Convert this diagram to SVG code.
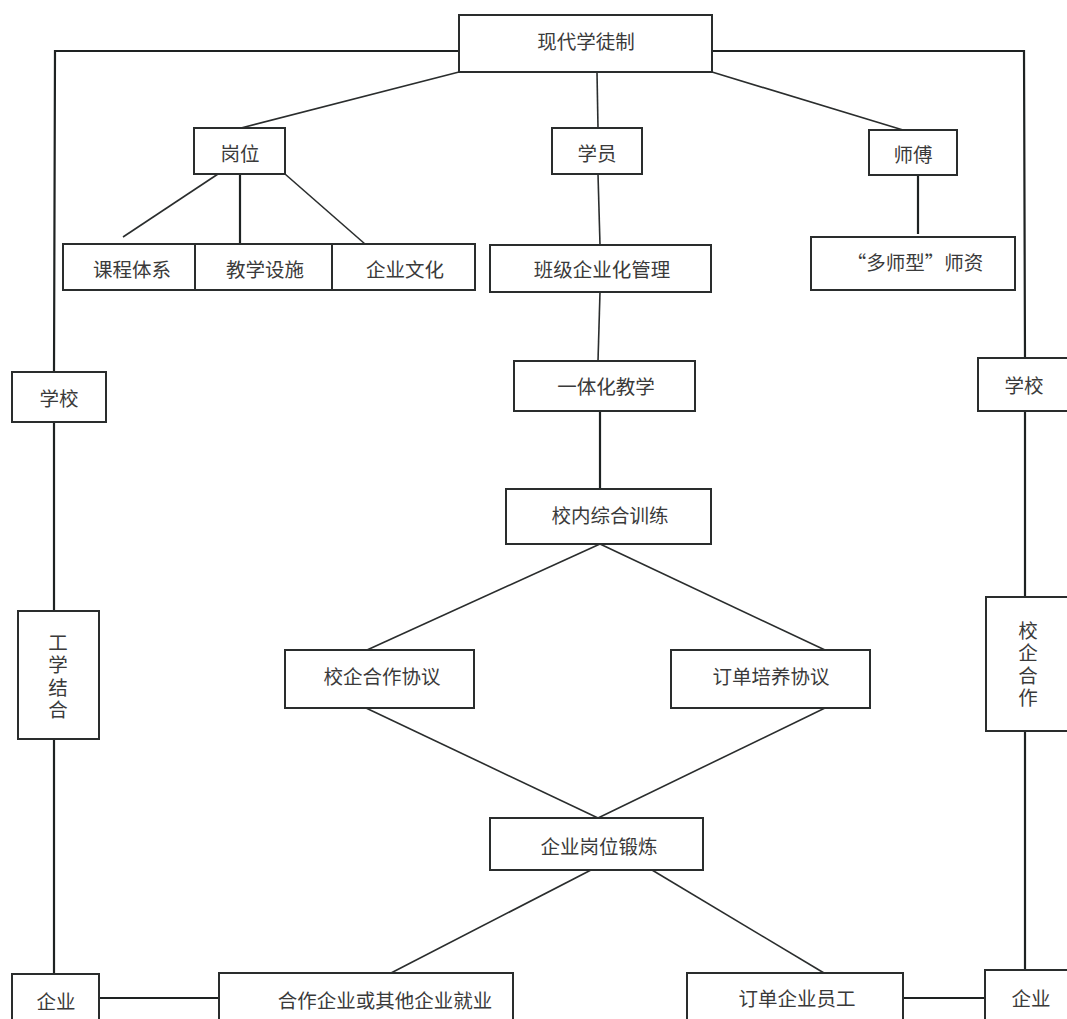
<svg xmlns="http://www.w3.org/2000/svg" width="1067" height="1019" viewBox="0 0 1067 1019">
<style>
.bg{fill:#ffffff}
.box{fill:#ffffff;stroke:#2a2d2d;stroke-width:2}
.ln{fill:none;stroke:#2a2d2d;stroke-width:1.6}
.lk{fill:none;stroke:#1e2222;stroke-width:2.2}
.t{font-family:"Noto Sans CJK SC","Noto Sans",sans-serif;font-size:19.5px;fill:#3a3a3a;text-anchor:middle;dominant-baseline:central}
.v{font-family:"Noto Sans CJK SC","Noto Sans",sans-serif;font-size:19.5px;fill:#3a3a3a;text-anchor:middle;writing-mode:vertical-rl;letter-spacing:3px}
</style>
<rect class="bg" x="0" y="0" width="1067" height="1019"/>
<g id="connectors">
<polyline class="lk" points="459,51 55,51 54,372"/>
<polyline class="lk" points="712,51 1024,51 1025,358"/>
<line class="lk" x1="54" y1="422" x2="54" y2="611"/>
<line class="lk" x1="54" y1="739" x2="54" y2="974"/>
<line class="lk" x1="1025" y1="411" x2="1025" y2="597"/>
<line class="lk" x1="1025" y1="731" x2="1025" y2="970"/>
<line class="lk" x1="99" y1="998" x2="219" y2="998"/>
<line class="lk" x1="903" y1="998" x2="985" y2="998"/>
<line class="ln" x1="459" y1="72" x2="241" y2="128"/>
<line class="ln" x1="597" y1="72" x2="598" y2="128"/>
<line class="ln" x1="712" y1="72" x2="903" y2="130"/>
<line class="ln" x1="218" y1="174" x2="123" y2="237"/>
<line class="lk" x1="240" y1="174" x2="240" y2="244"/>
<line class="ln" x1="285" y1="174" x2="365" y2="244"/>
<line class="ln" x1="598" y1="174" x2="600" y2="245"/>
<line class="lk" x1="918" y1="175" x2="918" y2="234"/>
<line class="ln" x1="600" y1="292" x2="598" y2="361"/>
<line class="lk" x1="600" y1="411" x2="600" y2="489"/>
<line class="ln" x1="600" y1="544" x2="367" y2="650"/>
<line class="ln" x1="600" y1="544" x2="825" y2="650"/>
<line class="ln" x1="366" y1="708" x2="598" y2="818"/>
<line class="ln" x1="825" y1="708" x2="598" y2="818"/>
<line class="ln" x1="591" y1="870" x2="391" y2="973"/>
<line class="ln" x1="652" y1="870" x2="824" y2="973"/>
</g>
<g id="n-top"><rect class="box" x="459" y="15" width="253" height="57"/><text class="t" x="586" y="40">现代学徒制</text></g>
<g id="n-gangwei"><rect class="box" x="194" y="128" width="91" height="46"/><text class="t" x="240" y="152">岗位</text></g>
<g id="n-xueyuan"><rect class="box" x="552" y="128" width="90" height="46"/><text class="t" x="597" y="152">学员</text></g>
<g id="n-shifu"><rect class="box" x="869" y="130" width="88" height="45"/><text class="t" x="913" y="153">师傅</text></g>
<g id="n-kecheng"><rect class="box" x="63" y="244" width="132" height="46"/><text class="t" x="132" y="268">课程体系</text></g>
<g id="n-jiaoxue"><rect class="box" x="195" y="244" width="137" height="46"/><text class="t" x="265" y="268">教学设施</text></g>
<g id="n-wenhua"><rect class="box" x="332" y="244" width="143" height="46"/><text class="t" x="405" y="268">企业文化</text></g>
<g id="n-banji"><rect class="box" x="490" y="245" width="221" height="47"/><text class="t" x="602" y="268">班级企业化管理</text></g>
<g id="n-duoshi"><rect class="box" x="811" y="237" width="204" height="53"/><text class="t" x="915" y="261">“多师型”师资</text></g>
<g id="n-xuexiao-l"><rect class="box" x="12" y="372" width="94" height="50"/><text class="t" x="59" y="397">学校</text></g>
<g id="n-xuexiao-r"><rect class="box" x="978" y="358" width="93" height="53"/><text class="t" x="1024" y="384">学校</text></g>
<g id="n-yitihua"><rect class="box" x="514" y="361" width="181" height="50"/><text class="t" x="606" y="385">一体化教学</text></g>
<g id="n-xiaonei"><rect class="box" x="506" y="489" width="205" height="55"/><text class="t" x="610" y="514">校内综合训练</text></g>
<g id="n-gongxue"><rect class="box" x="18" y="611" width="81" height="128"/>
<text class="v" x="58" y="677.5">工学结合</text></g>
<g id="n-xiaoqi"><rect class="box" x="986" y="597" width="86" height="134"/>
<text class="v" x="1028" y="665.5">校企合作</text></g>
<g id="n-xiaoqixieyi"><rect class="box" x="285" y="650" width="189" height="58"/><text class="t" x="382" y="675">校企合作协议</text></g>
<g id="n-dingdanxieyi"><rect class="box" x="671" y="650" width="199" height="58"/><text class="t" x="771" y="675">订单培养协议</text></g>
<g id="n-duanlian"><rect class="box" x="490" y="818" width="213" height="52"/><text class="t" x="599" y="845">企业岗位锻炼</text></g>
<g id="n-qiye-l"><rect class="box" x="12" y="974" width="87" height="54"/><text class="t" x="56" y="1000">企业</text></g>
<g id="n-jiuye"><rect class="box" x="219" y="973" width="294" height="55"/><text class="t" x="385" y="999">合作企业或其他企业就业</text></g>
<g id="n-yuangong"><rect class="box" x="687" y="973" width="216" height="55"/><text class="t" x="797" y="997">订单企业员工</text></g>
<g id="n-qiye-r"><rect class="box" x="985" y="970" width="92" height="58"/><text class="t" x="1031" y="997">企业</text></g>
</svg>
